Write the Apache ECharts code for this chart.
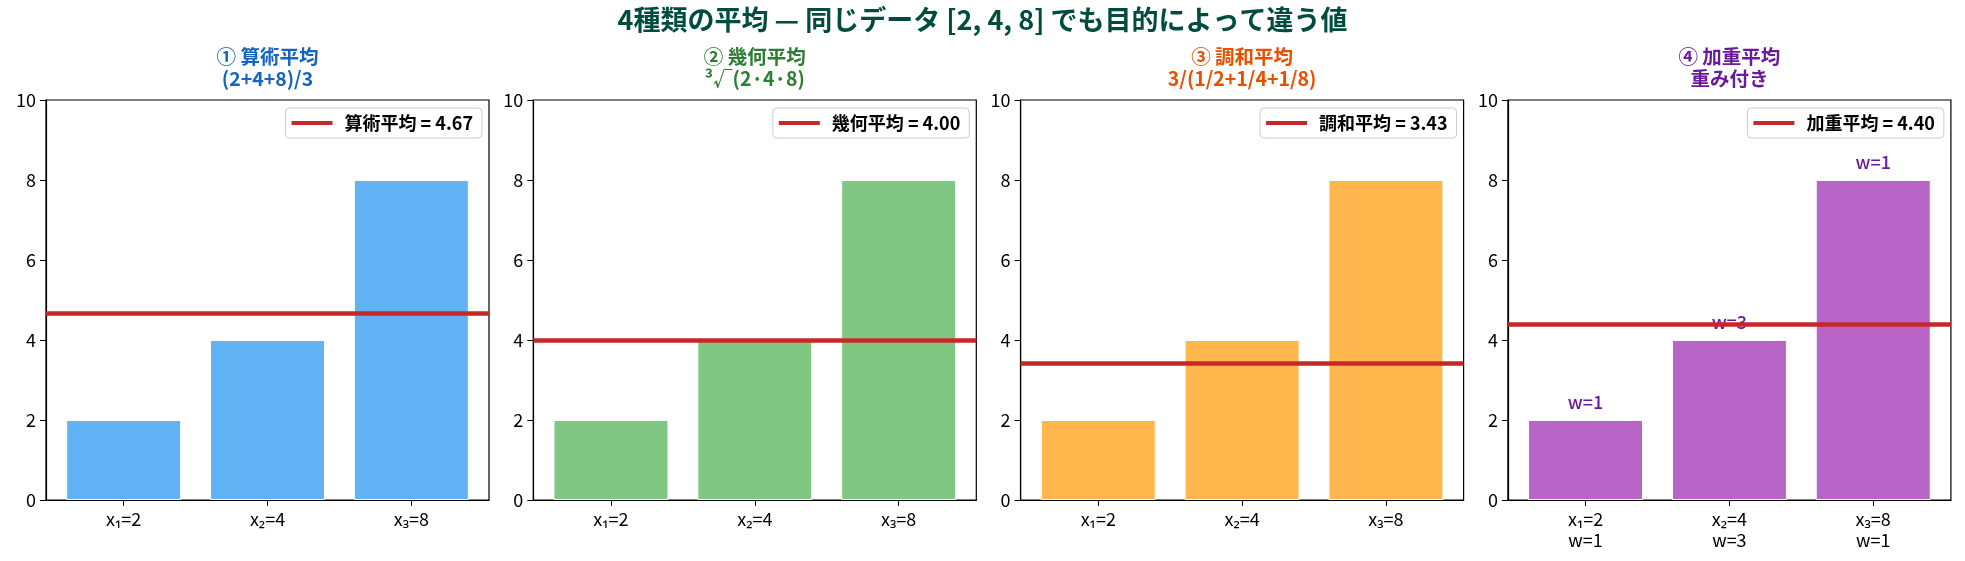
<!DOCTYPE html>
<html style="height: 100%">
<head>
<meta charset="utf-8">
<script src="https://cdn.jsdelivr.net/npm/echarts@6/dist/echarts.min.js"></script>
</head>
<body style="width: 100%; height: 100%; margin: 0">
<div id="main" style="width: 100%; height: 100%;"></div>
<script type="text/javascript">

// データ
var values = [2, 4, 8];
var weights = [1, 3, 1];
var xLabels = ['x₁=2', 'x₂=4', 'x₃=8'];
var xLabelsWeighted = ['x₁=2\nw=1', 'x₂=4\nw=3', 'x₃=8\nw=1'];
var meanValues = [4.67, 4.00, 3.43, 4.40];
var meanNames = ['算術平均', '幾何平均', '調和平均', '加重平均'];
var subTitles = [
    '① 算術平均\n(2+4+8)/3',
    '② 幾何平均\n³√(2·4·8)',
    '③ 調和平均\n3/(1/2+1/4+1/8)',
    '④ 加重平均\n重み付き'
];

var barColors = ['#62B3F6', '#81C784', '#FFB74D', '#B865C7'];
var titleColors = ['#1565C0', '#2E7D32', '#E65100', '#6A1B9A'];
var lineColor = '#C62828';
var font = '"Noto Sans CJK JP", "Noto Sans", sans-serif';

var myChart = echarts.init(document.getElementById('main'));
var W = myChart.getWidth();

var gridW = 443, gridH = 400, gridTop = 100, step = 487.3, firstLeft = 46;

var titles = [{
    text: '4種類の平均 — 同じデータ [2, 4, 8] でも目的によって違う値',
    left: 'center',
    top: 6,
    padding: 0,
    textStyle: { fontFamily: font, fontSize: 27, fontWeight: 'bold', color: '#004D40' }
}];
var grids = [], xAxes = [], yAxes = [], legends = [], series = [];

for (var i = 0; i < 4; i++) {
    var left = firstLeft + i * step;
    var legendName = meanNames[i] + ' = ' + meanValues[i].toFixed(2);
    var labels = (i === 3) ? xLabelsWeighted : xLabels;

    titles.push({
        text: subTitles[i],
        left: left + gridW / 2,
        textAlign: 'center',
        top: 46,
        padding: 0,
        textStyle: { fontFamily: font, fontSize: 19.5, fontWeight: 'bold', color: titleColors[i], lineHeight: 22 }
    });

    grids.push({
        left: left, top: gridTop, width: gridW, height: gridH,
        show: true, borderColor: '#000', borderWidth: 1.2
    });

    xAxes.push({
        type: 'value', gridIndex: i, min: -0.54, max: 2.54,
        splitLine: { show: false },
        axisLine: { show: true, onZero: false, lineStyle: { color: '#000', width: 1.2 } },
        axisTick: { show: true, customValues: [0, 1, 2], length: 6, lineStyle: { color: '#000' } },
        axisLabel: {
            customValues: [0, 1, 2],
            formatter: (function (lb) { return function (v) { return lb[Math.round(v)]; }; })(labels),
            fontFamily: font, fontSize: 18, color: '#000', margin: 9, lineHeight: 21
        }
    });

    yAxes.push({
        type: 'value', gridIndex: i, min: 0, max: 10, interval: 2,
        splitLine: { show: false },
        axisLine: { show: true, onZero: false, lineStyle: { color: '#000', width: 1.2 } },
        axisTick: { show: true, length: 6, lineStyle: { color: '#000' } },
        axisLabel: { fontFamily: font, fontSize: 18, color: '#000', margin: 10 }
    });

    legends.push({
        data: [legendName],
        right: W - (left + gridW) + 7,
        top: 108,
        icon: 'rect',
        itemWidth: 41,
        itemHeight: 4,
        selectedMode: false,
        borderColor: '#ccc',
        borderWidth: 1,
        borderRadius: 4,
        backgroundColor: 'rgba(255,255,255,0.8)',
        padding: [6, 9, 6, 6],
        textStyle: { fontFamily: font, fontSize: 18, fontWeight: 'bold', color: '#000', padding: [0, 0, 0, 7] }
    });

    series.push({
        type: 'bar',
        xAxisIndex: i, yAxisIndex: i,
        data: values.map(function (v, j) { return [j, v]; }),
        barWidth: 115,
        itemStyle: { color: barColors[i], borderColor: '#fff', borderWidth: 1 },
        label: (i === 3) ? {
            show: true,
            position: 'top',
            distance: 9,
            formatter: function (p) { return 'w=' + weights[p.dataIndex]; },
            fontFamily: font, fontSize: 18, fontWeight: 500, color: '#6A1B9A'
        } : { show: false },
        silent: true
    });

    series.push({
        type: 'line',
        name: legendName,
        xAxisIndex: i, yAxisIndex: i,
        data: [],
        color: lineColor,
        lineStyle: { color: lineColor, width: 4.5 },
        markLine: {
            silent: true,
            symbol: 'none',
            label: { show: false },
            lineStyle: { color: lineColor, width: 4.5, type: 'solid' },
            data: [{ yAxis: meanValues[i] }]
        }
    });
}

var option = {
    backgroundColor: '#fff',
    animation: false,
    title: titles,
    grid: grids,
    xAxis: xAxes,
    yAxis: yAxes,
    legend: legends,
    series: series
};
myChart.setOption(option);

</script>
</body>
</html>
